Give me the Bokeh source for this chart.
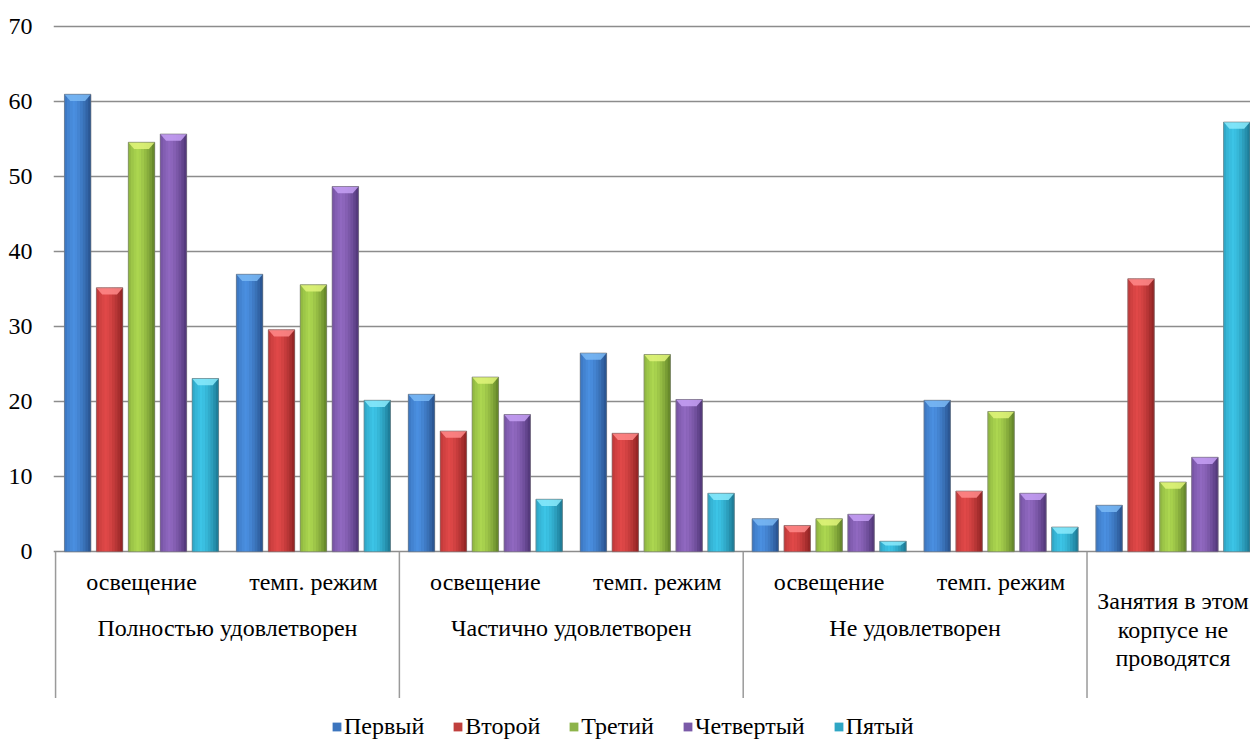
import numpy as np
from bokeh.plotting import figure
from bokeh.models import Range1d, FixedTicker, Legend, LegendItem, ColumnDataSource
from bokeh.core.properties import value
from bokeh.embed import file_html
from bokeh.resources import INLINE

# ---------------- data ----------------
group_labels = ["Полностью удовлетворен", "Частично удовлетворен", "Не удовлетворен"]
last_group_lines = ["Занятия в этом", "корпусе не", "проводятся"]
sub_labels = ["освещение", "темп. режим", "освещение", "темп. режим", "освещение", "темп. режим"]
series_names = ["Первый", "Второй", "Третий", "Четвертый", "Пятый"]

pervyi    = [61.0, 37.0, 21.0, 26.5, 4.4, 20.2, 6.2]
vtoroi    = [35.2, 29.6, 16.1, 15.8, 3.5, 8.1, 36.4]
tretii    = [54.6, 35.6, 23.3, 26.3, 4.4, 18.7, 9.3]
chetverty = [55.7, 48.7, 18.3, 20.3, 5.0, 7.8, 12.6]
pyatyi    = [23.1, 20.2, 7.0, 7.8, 1.4, 3.3, 57.3]
series_values = [pervyi, vtoroi, tretii, chetverty, pyatyi]

y_ticks = [0, 10, 20, 30, 40, 50, 60, 70]

# ---------------- style ----------------
FONT = "Liberation Serif"
FS = "24px"
mid_cols = ["#3c75be", "#c0403d", "#8db44a", "#7a5aa8", "#2fa6c4"]
dark_cols = ["#27508a", "#8c2222", "#5f8026", "#4e3475", "#1a7590"]
light_cols = ["#4a8fe0", "#e04848", "#acd650", "#9068c0", "#3cc4e6"]
cap_cols = ["#7ab8f5", "#ff8a8a", "#e0f57a", "#c6a0f5", "#8aeafc"]


def hex2rgb(h):
    h = h.lstrip("#")
    return np.array([int(h[i:i + 2], 16) for i in (0, 2, 4)], dtype=float)


def mix(c1, c2, t):
    a, b = hex2rgb(c1), hex2rgb(c2)
    c = a + (b - a) * t
    return "#%02x%02x%02x" % tuple(int(round(v)) for v in np.clip(c, 0, 255))


def shade(t):
    if t < 0.35:
        return 0.45 + 0.55 * (t / 0.35) ** 0.5
    return 1.0 - ((t - 0.35) / 0.65) ** 1.5


n_cat = len(pervyi)
cat_x = np.arange(n_cat) + 0.5
step = 0.1857
bar_w = 0.154
offsets = (np.arange(len(series_names)) - 2) * step

p = figure(width=1250, height=740, output_backend="svg", toolbar_location=None,
           x_range=Range1d(-0.012, 6.951), y_range=Range1d(-25.17, 70.3),
           x_axis_location=None, y_axis_location="left", title=None,
           min_border_left=53, min_border_right=0, min_border_top=24, min_border_bottom=0)
p.outline_line_color = None
p.xgrid.visible = False
p.ygrid.ticker = FixedTicker(ticks=y_ticks)
p.ygrid.grid_line_color = "#8c8c8c"
p.ygrid.grid_line_width = 1.3

ax = p.yaxis[0]
ax.ticker = FixedTicker(ticks=y_ticks)
ax.axis_line_color = None
ax.major_tick_line_color = None
ax.minor_tick_line_color = None
ax.major_tick_out = 0
ax.major_tick_in = 0
ax.major_label_standoff = 21
ax.major_label_text_font = FONT
ax.major_label_text_font_size = FS
ax.major_label_text_color = "#000000"

legend_items = []
N = 10
for k, name in enumerate(series_names):
    xs = cat_x + offsets[k]
    tops = np.array(series_values[k], dtype=float)
    base = p.vbar(x=xs, top=tops, bottom=0, width=bar_w, fill_color=mid_cols[k],
                  line_color=None)
    legend_items.append(LegendItem(label=name, renderers=[base]))
    # horizontal shading strips
    bw = bar_w / N
    sx, st, sc = [], [], []
    for j in range(N):
        t = (j + 0.5) / N
        col = mix(dark_cols[k], light_cols[k], shade(t))
        for i in range(n_cat):
            sx.append(xs[i] - bar_w / 2 + (j + 0.5) * bw)
            st.append(tops[i])
            sc.append(col)
    p.vbar(x="x", top="top", bottom=0, width=bw * 1.1, fill_color="c", line_color=None,
           source=ColumnDataSource(dict(x=sx, top=st, c=sc)))
    # bevelled cap
    cx, cy = [], []
    for i in range(n_cat):
        c = min(0.9, tops[i] * 0.4)
        xl, xr = xs[i] - bar_w / 2, xs[i] + bar_w / 2
        cx.append([xl, xr, xr - bar_w * 0.22, xl + bar_w * 0.22])
        cy.append([tops[i], tops[i], tops[i] - c, tops[i] - c])
    p.patches(xs=cx, ys=cy, fill_color=cap_cols[k], fill_alpha=0.85, line_color=None)
    # soft outline
    p.vbar(x=xs, top=tops, bottom=0, width=bar_w, fill_color=None,
           line_color="#7a7a7a", line_alpha=0.6, line_width=1)

# category separators
sep_x = [0, 2, 4, 6]
p.segment(x0=sep_x, y0=[0] * 4, x1=sep_x, y1=[-19.5] * 4, line_color="#9a9a9a", line_width=1.5)

txt = dict(text_font=value(FONT), text_font_size=value(FS), text_align="center",
           text_baseline="middle", text_color="#000000")
# subcategory labels
p.text(x=cat_x[:len(sub_labels)], y=[-4.1] * len(sub_labels), text=sub_labels, **txt)
# group labels
p.text(x=[1, 3, 5], y=[-10.2] * 3, text=group_labels, **txt)
p.text(x=[6.5] * 3, y=[-6.6, -10.5, -14.2], text=last_group_lines, **txt)

legend = Legend(items=legend_items, orientation="horizontal", location=(278, 0),
                label_text_font=FONT, label_text_font_size=FS, label_text_color="#000000",
                glyph_width=11, glyph_height=11, label_standoff=2, spacing=28,
                padding=0, margin=0, border_line_color=None, background_fill_alpha=0)
p.add_layout(legend, "center")

open("out.html", "w").write(file_html(p, INLINE))
